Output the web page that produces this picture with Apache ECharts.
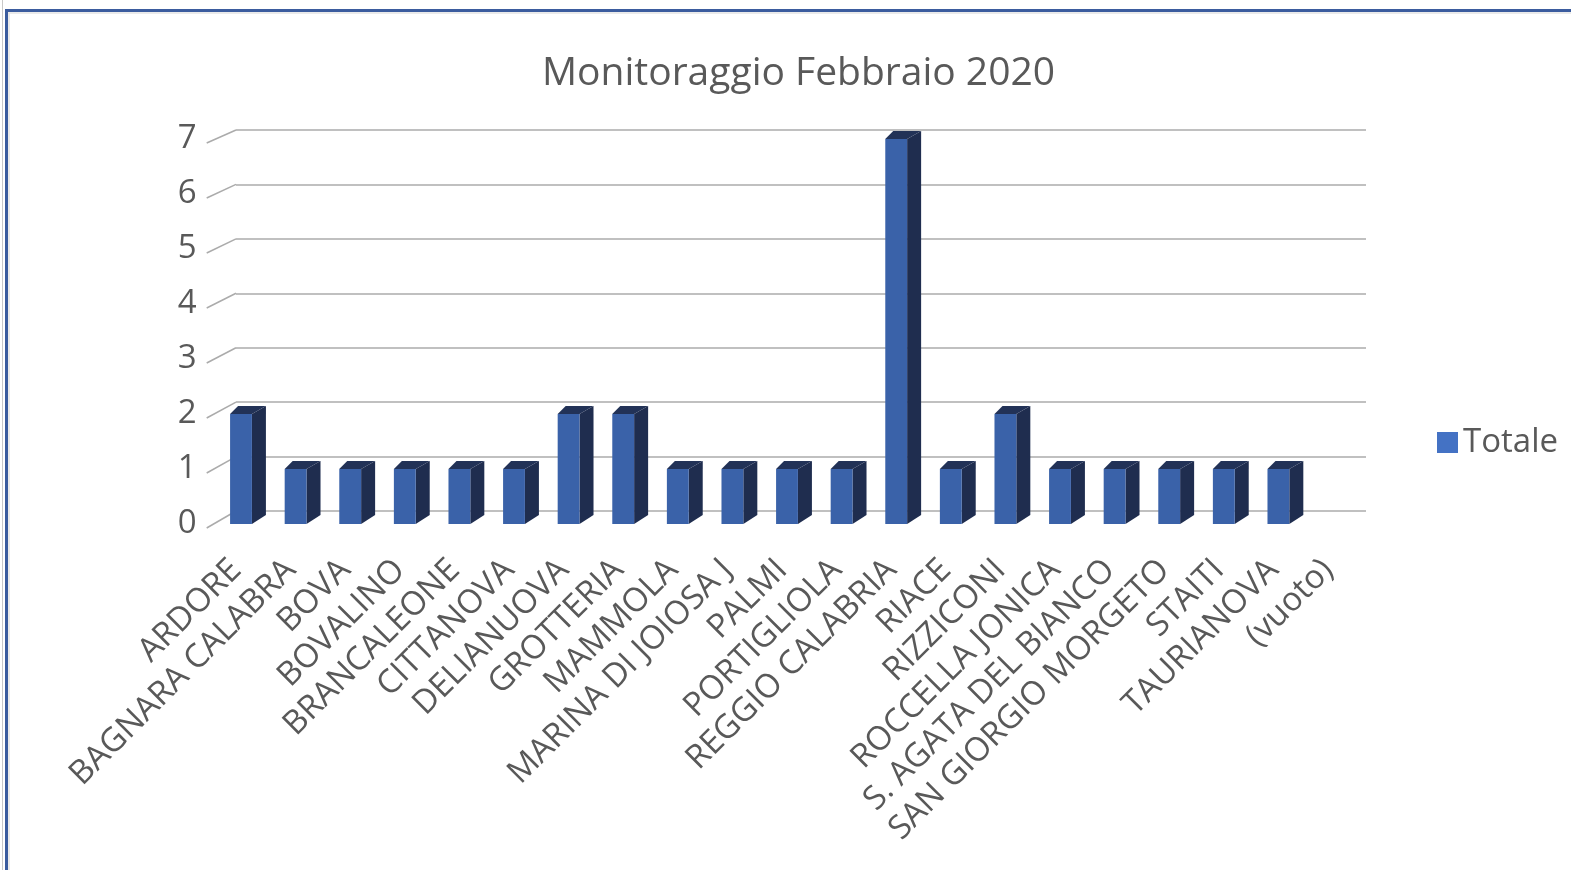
<!DOCTYPE html>
<html>
<head>
<meta charset="utf-8">
<title>Monitoraggio Febbraio 2020</title>
<script src="https://cdn.jsdelivr.net/npm/echarts@6/dist/echarts.min.js"></script>
<style>
  html, body { margin: 0; padding: 0; background: #fff; }
  #main { width: 1571px; height: 870px; }
</style>
</head>
<body>
<div id="main"></div>
<script>
var comuni = ['ARDORE', 'BAGNARA CALABRA', 'BOVA', 'BOVALINO', 'BRANCALEONE', 'CITTANOVA',
  'DELIANUOVA', 'GROTTERIA', 'MAMMOLA', 'MARINA DI JOIOSA J', 'PALMI', 'PORTIGLIOLA',
  'REGGIO CALABRIA', 'RIACE', 'RIZZICONI', 'ROCCELLA JONICA', 'S. AGATA DEL BIANCO',
  'SAN GIORGIO MORGETO', 'STAITI', 'TAURIANOVA', '(vuoto)'];
var totale = [2, 1, 1, 1, 1, 1, 2, 2, 1, 1, 1, 1, 7, 1, 2, 1, 1, 1, 1, 1, null];
var yTicks = [0, 1, 2, 3, 4, 5, 6, 7];

var myChart = echarts.init(document.getElementById('main'));
var FONT = '"Open Sans", sans-serif';
var GREY = '#595959';

// colonna "3D": faccia frontale, lato e cima
function renderBar(params, api) {
	var v = api.value(1);
	if (v == null || isNaN(v)) return;
	var top = api.coord([api.value(0), v]);
	var bot = api.coord([api.value(0), 0]);
	var w = api.size([1, 0])[0] * 0.4;
	var x0 = top[0] - w / 2, x1 = top[0] + w / 2;
	var yt = top[1], yb = bot[1];
	return {
		type: 'group',
		children: [{
			type: 'polygon',
			shape: { points: [[x1, yt], [x1 + 14, yt - 8], [x1 + 14, yb - 9], [x1, yb]] },
			style: { fill: '#1f2d4f' }
		}, {
			type: 'polygon',
			shape: { points: [[x0, yt], [x0 + 8, yt - 8], [x1 + 14, yt - 8], [x1, yt]] },
			style: { fill: '#223257' }
		}, {
			type: 'rect',
			shape: { x: x0, y: yt, width: w, height: yb - yt },
			style: { fill: '#3a62a9' }
		}]
	};
}

var option = {
	animation: false,
	backgroundColor: '#fff',
	title: {
		text: 'Monitoraggio Febbraio 2020',
		left: 537,
		top: 49,
		textStyle: { fontFamily: FONT, fontSize: 39, fontWeight: 'normal', color: GREY }
	},
	legend: {
		data: ['Totale'],
		left: 1432,
		top: 421,
		icon: 'rect',
		itemWidth: 21,
		itemHeight: 21,
		itemGap: 8,
		textStyle: { fontFamily: FONT, fontSize: 33, color: GREY }
	},
	grid: [
		// parete di fondo
		{ left: 236, right: 205, top: 130, bottom: 359 },
		// piano frontale
		{ left: 213.7, right: 210.7, top: 139, bottom: 346 }
	],
	xAxis: [{
		gridIndex: 0,
		type: 'category',
		data: comuni,
		show: false
	}, {
		gridIndex: 1,
		type: 'category',
		data: comuni,
		axisLine: { show: false },
		axisTick: { show: false },
		axisLabel: {
			interval: 0,
			rotate: 45,
			margin: 36,
			padding: [0, 7, 0, 0],
			fontFamily: FONT,
			fontSize: 33,
			color: GREY
		}
	}],
	yAxis: [{
		gridIndex: 0,
		type: 'value',
		min: 0,
		max: 7,
		interval: 1,
		axisLine: { show: false },
		axisTick: { show: false },
		axisLabel: { show: false },
		splitLine: { lineStyle: { color: '#ababab', width: 1.5 } }
	}, {
		gridIndex: 1,
		type: 'value',
		min: 0,
		max: 7,
		interval: 1,
		axisLine: { show: false },
		axisTick: { show: false },
		splitLine: { show: false },
		axisLabel: {
			margin: 17,
			fontFamily: FONT,
			fontSize: 33,
			color: GREY
		}
	}],
	series: [{
		name: 'Totale',
		type: 'custom',
		xAxisIndex: 1,
		yAxisIndex: 1,
		itemStyle: { color: '#4472c4' },
		renderItem: renderBar,
		encode: { x: 0, y: 1 },
		data: totale.map(function (v, i) { return [i, v]; }),
		z: 5
	}]
};
myChart.setOption(option);

// cornice e trattini obliqui dell'asse verticale
var extra = [
	{ type: 'line', shape: { x1: 2.5, y1: 0, x2: 2.5, y2: 870 }, style: { stroke: '#c8c8c8', lineWidth: 1 } },
	{ type: 'line', shape: { x1: 5, y1: 10.5, x2: 1571, y2: 10.5 }, style: { stroke: '#3b5c9e', lineWidth: 3 } },
	{ type: 'line', shape: { x1: 6.5, y1: 10, x2: 6.5, y2: 870 }, style: { stroke: '#3b5c9e', lineWidth: 3 } },
	{ type: 'line', shape: { x1: 8, y1: 13, x2: 1571, y2: 13 }, style: { stroke: '#e3e3e3', lineWidth: 1.5 } },
	{ type: 'line', shape: { x1: 9, y1: 13, x2: 9, y2: 870 }, style: { stroke: '#e3e3e3', lineWidth: 1.5 } }
];
yTicks.forEach(function (v) {
	var f = myChart.convertToPixel({ xAxisIndex: 1, yAxisIndex: 1 }, [0, v]);
	var b = myChart.convertToPixel({ xAxisIndex: 0, yAxisIndex: 0 }, [0, v]);
	extra.push({
		type: 'line',
		shape: { x1: 206.7, y1: f[1] + 4, x2: 236, y2: b[1] },
		style: { stroke: '#ababab', lineWidth: 1.5 }
	});
});
myChart.setOption({ graphic: extra });
window.onresize = function () { myChart.resize(); };
</script>
</body>
</html>
